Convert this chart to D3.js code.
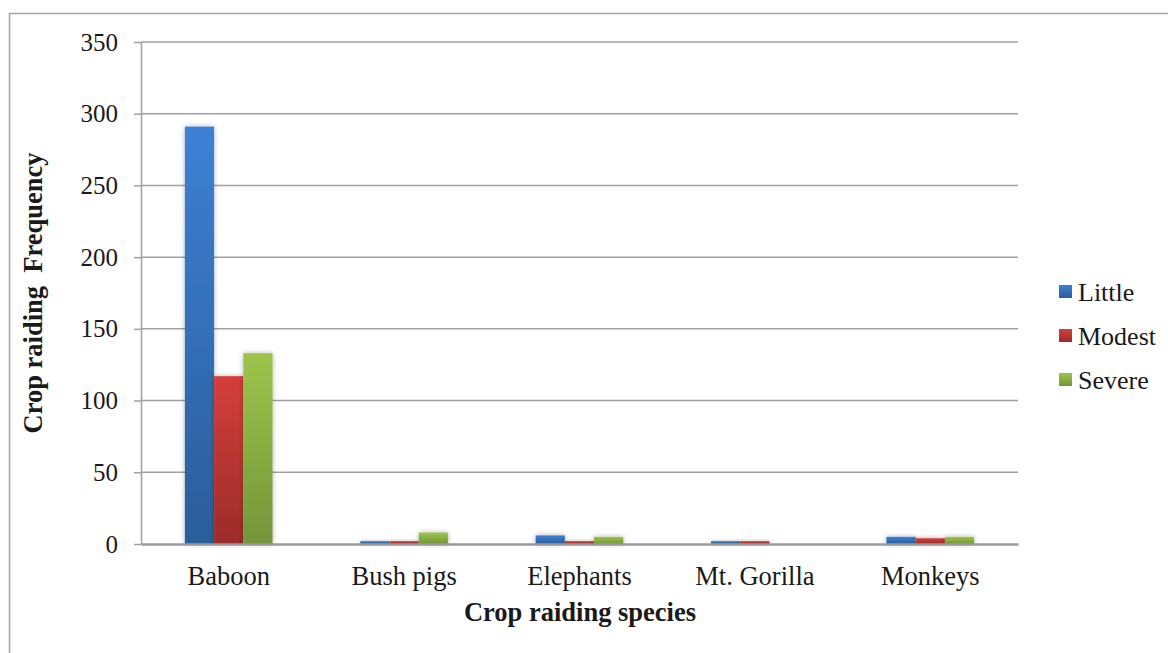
<!DOCTYPE html>
<html>
<head>
<meta charset="utf-8">
<script src="https://cdn.jsdelivr.net/npm/d3@7"></script>
<style>
  html, body { margin: 0; padding: 0; background: #fff; }
  svg { display: block; }
  svg text { font-family: "Liberation Serif", "Times New Roman", Times, serif; }
</style>
</head>
<body>
<svg id="chart" width="1168" height="653"></svg>
<script>
// Crop raiding frequency by species and severity
const species = ["Baboon", "Bush pigs", "Elephants", "Mt. Gorilla", "Monkeys"];
const severities = ["Little", "Modest", "Severe"];
const little = [291, 2, 6, 2, 5];
const modest = [117, 2, 2, 2, 4];
const severe = [133, 8, 5, 0, 5];
const yTicks = [0, 50, 100, 150, 200, 250, 300, 350];

const seriesValues = [little, modest, severe];
const colors = {
  Little: ["#3d80d3", "#2b5d9a"],
  Modest: ["#d43f3a", "#9b2c29"],
  Severe: ["#9cc54b", "#74953a"]
};

const svg = d3.select("#chart");
const margin = { left: 141, right: 1018, top: 42, bottom: 544 };

// Chart area frame
svg.append("path")
  .attr("d", "M9.5,700 L9.5,13.5 L1170,13.5")
  .attr("fill", "none")
  .attr("stroke", "#a6a6a6")
  .attr("stroke-width", 1.5);

const defs = svg.append("defs");
severities.forEach(s => {
  const g = defs.append("linearGradient")
    .attr("id", "grad-" + s)
    .attr("x1", 0).attr("y1", 0).attr("x2", 0).attr("y2", 1);
  g.append("stop").attr("offset", "0%").attr("stop-color", colors[s][0]);
  g.append("stop").attr("offset", "100%").attr("stop-color", colors[s][1]);
});
const shadow = defs.append("filter").attr("id", "shadow")
  .attr("x", "-50%").attr("y", "-50%").attr("width", "200%").attr("height", "200%");
shadow.append("feDropShadow")
  .attr("dx", 0).attr("dy", 0).attr("stdDeviation", 2.5)
  .attr("flood-color", "#000").attr("flood-opacity", 0.3);

const x = d3.scaleBand().domain(species).range([margin.left, margin.right]).padding(0);
const groupWidth = x.bandwidth() * 0.5;
const xs = d3.scaleBand().domain(severities).range([0, groupWidth]).padding(0);
const y = d3.scaleLinear().domain([0, 350]).range([margin.bottom, margin.top]);

// Horizontal gridlines
svg.append("g")
  .selectAll("line")
  .data(yTicks.filter(t => t > 0))
  .join("line")
  .attr("x1", margin.left).attr("x2", margin.right)
  .attr("y1", d => y(d)).attr("y2", d => y(d))
  .attr("stroke", "#a0a0a0").attr("stroke-width", 1.5);

// Y axis
const yAxis = svg.append("g")
  .attr("transform", `translate(${margin.left},0)`)
  .call(d3.axisLeft(y).tickValues(yTicks).tickSize(7).tickPadding(16).tickSizeOuter(0))
  .attr("font-family", null).attr("font-size", null);
yAxis.select(".domain").attr("stroke", "#a0a0a0").attr("stroke-width", 1.5);
yAxis.selectAll(".tick line").attr("stroke", "#a0a0a0").attr("stroke-width", 1.5);
yAxis.selectAll(".tick text")
  .style("font-size", "25px").attr("fill", "#1a1a1a");

// Bars
const groups = svg.append("g")
  .selectAll("g")
  .data(species)
  .join("g")
  .attr("transform", d => `translate(${x(d) + (x.bandwidth() - groupWidth) / 2},0)`);

groups.selectAll("rect")
  .data((d, i) => severities.map((s, k) => ({ s, v: seriesValues[k][i] })))
  .join("rect")
  .filter(d => d.v > 0)
  .attr("x", d => xs(d.s))
  .attr("width", xs.bandwidth())
  .attr("y", d => y(d.v))
  .attr("height", d => y(0) - y(d.v))
  .attr("fill", d => `url(#grad-${d.s})`)
  .attr("filter", "url(#shadow)");

// X axis
const xAxis = svg.append("g")
  .attr("transform", `translate(0,${margin.bottom})`)
  .call(d3.axisBottom(x).tickSize(0).tickPadding(22).tickSizeOuter(0))
  .attr("font-family", null).attr("font-size", null);
xAxis.select(".domain").attr("stroke", "#9a9a9a").attr("stroke-width", 2.5);
xAxis.selectAll(".tick text")
  .style("font-size", "26.5px").attr("fill", "#1a1a1a");

// Axis titles
svg.append("text")
  .attr("x", 580).attr("y", 621)
  .attr("text-anchor", "middle")
  .style("font-size", "26.5px").attr("font-weight", "bold").attr("fill", "#1a1a1a")
  .text("Crop raiding species");

svg.append("text")
  .attr("transform", "translate(42,293) rotate(-90)")
  .attr("text-anchor", "middle")
  .style("font-size", "26.5px").attr("font-weight", "bold").attr("fill", "#1a1a1a")
  .style("white-space", "pre")
  .text("Crop raiding  Frequency");

// Legend
const legend = svg.append("g")
  .selectAll("g")
  .data(severities)
  .join("g")
  .attr("transform", (d, i) => `translate(1059,${292 + i * 44})`);
legend.append("rect")
  .attr("x", 0).attr("y", -7).attr("width", 13).attr("height", 13)
  .attr("fill", d => `url(#grad-${d})`);
legend.append("text")
  .attr("x", 19).attr("y", 0).attr("dy", "0.34em")
  .style("font-size", "26px").attr("fill", "#1a1a1a")
  .text(d => d);
</script>
</body>
</html>
